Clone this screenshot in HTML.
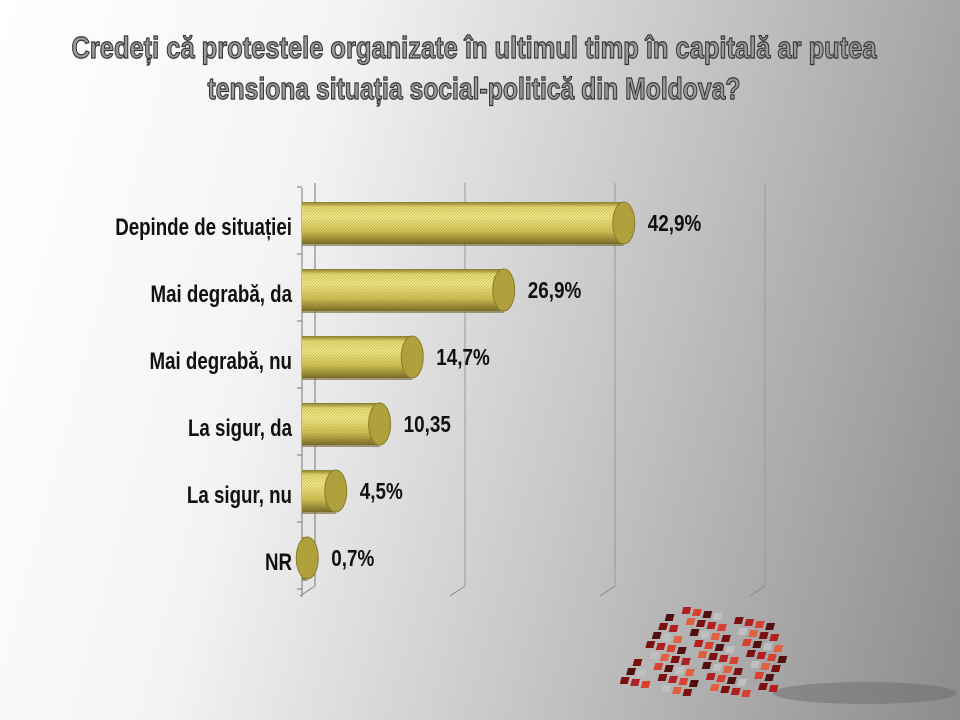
<!DOCTYPE html>
<html><head><meta charset="utf-8"><style>
body{margin:0;width:960px;height:720px;overflow:hidden;font-family:"Liberation Sans Narrow","Liberation Sans",sans-serif;}
#bg{position:absolute;left:0;top:0;width:960px;height:720px;background:linear-gradient(105deg,#ffffff 0%,#f4f4f4 30%,#c8c8c8 60%,#8c8c8c 100%);}
</style></head><body>
<div id="bg"></div>
<svg width="960" height="720" style="position:absolute;left:0;top:0">
<defs>
<linearGradient id="cyl" x1="0" y1="0" x2="0" y2="1">
<stop offset="0" stop-color="#8c8030"/><stop offset="0.12" stop-color="#e8dc70"/><stop offset="0.35" stop-color="#f4ea88"/><stop offset="0.7" stop-color="#d6c554"/><stop offset="1" stop-color="#7a6e28"/></linearGradient>
<pattern id="hatch" width="3" height="3" patternUnits="userSpaceOnUse"><path d="M0 3L3 0" stroke="rgba(90,80,20,0.25)" stroke-width="0.8"/></pattern>
</defs>
<g id="title" font-weight="bold" font-size="31" text-anchor="middle" fill="#9a9a9a" stroke="#333" stroke-width="1.2">
<text x="474" y="58" textLength="805" lengthAdjust="spacingAndGlyphs">Credeți că protestele organizate în ultimul timp în capitală ar putea</text>
<text x="474" y="99" textLength="533" lengthAdjust="spacingAndGlyphs">tensiona situația social-politică din Moldova?</text>
</g>
<g id="grid"></g><g id="bars"></g><g id="labels"></g>
<g>
<ellipse cx="865" cy="693" rx="92" ry="11" fill="#666" opacity="0.45"/>
<g id="logo"></g>
</g>
</svg>
<script>
const categories=["Depinde de situației","Mai degrabă, da","Mai degrabă, nu","La sigur, da","La sigur, nu","NR"];
const values=[42.9,26.9,14.7,10.35,4.5,0.7];
const valueLabels=["42,9%","26,9%","14,7%","10,35","4,5%","0,7%"];
const gridTicks=[0,20,40,60];
const NS="http://www.w3.org/2000/svg";
function mk(t,a,p){const e=document.createElementNS(NS,t);for(const k in a)e.setAttribute(k,a[k]);p.appendChild(e);return e;}
function squeeze(el,f){const w=el.getComputedTextLength();el.setAttribute('textLength',(w*f).toFixed(1));el.setAttribute('lengthAdjust','spacingAndGlyphs');}
const x0=302,pxPer=7.5,yTop=190,rowH=67;
const xs=v=>x0+v*pxPer;
const yc=i=>yTop+33+i*rowH;
const grid=document.getElementById('grid');
gridTicks.forEach((t,i)=>{
 const xf=xs(t)-2,xb=xf+15;
 const l=mk('line',{x1:xb,y1:183,x2:xb,y2:586,stroke:i==0?'#777':'#999','stroke-width':1},grid);
 
 
 mk('line',{x1:xf,y1:596,x2:xb,y2:586,stroke:'#888','stroke-width':1},grid);
});
const ax=mk('line',{x1:x0,y1:188,x2:x0,y2:597,stroke:'#777','stroke-width':1},grid);


for(let i=0;i<=categories.length;i++){mk('line',{x1:x0-5,y1:yTop+i*rowH-3,x2:x0,y2:yTop+i*rowH-3,stroke:'#777'},grid);}
const bars=document.getElementById('bars'),labels=document.getElementById('labels');
values.forEach((v,i)=>{
 const c=yc(i),h=42,xe=xs(v),g=mk('g',{},bars);
 
 
 mk('rect',{x:x0,y:c-h/2,width:Math.max(xe-x0,0),height:h,fill:'url(#cyl)'},g);
 mk('rect',{x:x0,y:c-h/2,width:Math.max(xe-x0,0),height:h,fill:'url(#hatch)'},g);
 mk('line',{x1:x0,y1:c+h/2+1,x2:xe,y2:c+h/2+1,stroke:'#6e6530','stroke-width':2,opacity:0.6},g);
 mk('ellipse',{cx:xe,cy:c,rx:11,ry:h/2,fill:'#b8a840',stroke:'#8a7e30','stroke-width':1},g);
 mk('ellipse',{cx:xe,cy:c,rx:11,ry:h/2,fill:'url(#hatch)'},g);
 const cl=mk('text',{x:292,y:c+12,'text-anchor':'end','font-size':24,'font-weight':'bold',fill:'#111'},labels);
 cl.textContent=categories[i];
 
 
 squeeze(cl,0.78);
 const vl=mk('text',{x:xe+24,y:c+8,'font-size':23,fill:'#111','font-weight':'bold'},labels);
 vl.textContent=valueLabels[i];
 
 
 squeeze(vl,0.82);
});
const logo=document.getElementById('logo');
const cols=['#7a1010','#b02020','#d84030','#501010','#c0c0c0','#e06040'];
for(let r=0;r<9;r++)for(let k=0;k<14;k++){
 if((r*7+k*3)%5==0)continue;
 const x=835+k*11-r*4,y=605+r*9+k*2;
 if(x>955||y>690)continue;
 mk('rect',{x:x,y:y,width:8,height:7,fill:cols[(r*3+k)%6],transform:`skewX(-15)`},logo);
}
</script>
</body></html>
